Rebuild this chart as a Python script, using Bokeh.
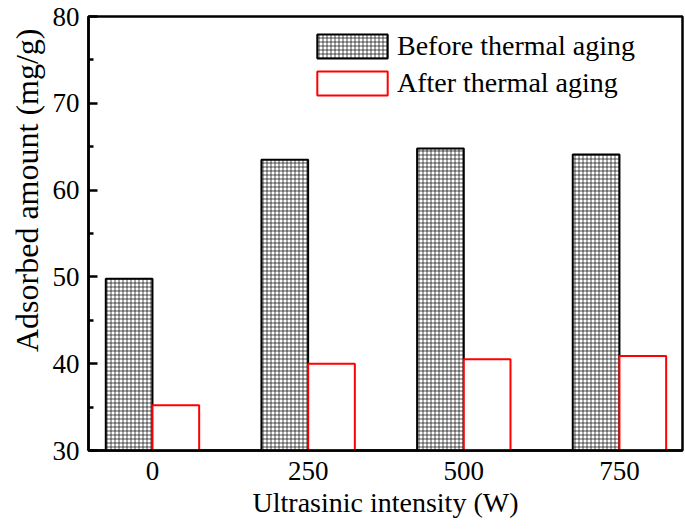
from bokeh.plotting import figure
from bokeh.models import FixedTicker, Range1d, Legend, LegendItem, ColumnDataSource, Title
from bokeh.embed import file_html
from bokeh.resources import INLINE

categories = ["0", "250", "500", "750"]
before = [49.8, 63.5, 64.8, 64.1]
after = [35.2, 40.0, 40.5, 40.9]
series_names = ["Before thermal aging", "After thermal aging"]
x_title = "Ultrasinic intensity (W)"
y_title = "Adsorbed amount (mg/g)"

xs = list(range(len(categories)))
FONT = "Liberation Serif"

p = figure(width=685, height=530, output_backend="svg", toolbar_location=None,
           x_range=Range1d(-0.411, 3.405), y_range=Range1d(30, 80),
           min_border_left=88, min_border_right=3, min_border_top=16, min_border_bottom=80)
p.grid.visible = False
p.background_fill_color = "white"
p.outline_line_color = "black"
p.outline_line_width = 2.5

src_b = ColumnDataSource(dict(x=[x - 0.15 for x in xs], top=before))
src_a = ColumnDataSource(dict(x=[x + 0.15 for x in xs], top=after))

rb = p.vbar(x="x", top="top", bottom=30, width=0.3, source=src_b,
            fill_color="white", line_color="black", line_width=2,
            hatch_pattern="+", hatch_color="black", hatch_scale=4, hatch_weight=0.8, hatch_alpha=0.85)
ra = p.vbar(x="x", top="top", bottom=30, width=0.3, source=src_a,
            fill_color="white", line_color="red", line_width=2)

# axes
p.xaxis.ticker = FixedTicker(ticks=xs)
p.xaxis.major_label_overrides = {i: c for i, c in enumerate(categories)}
p.xaxis.major_tick_line_color = None
p.xaxis.minor_tick_line_color = None
p.xaxis.major_tick_in = 0
p.xaxis.major_tick_out = 0
p.yaxis.ticker = FixedTicker(ticks=[30, 40, 50, 60, 70, 80], minor_ticks=[35, 45, 55, 65, 75])
p.yaxis.major_tick_in = 9
p.yaxis.major_tick_out = 0
p.yaxis.minor_tick_in = 5
p.yaxis.minor_tick_out = 0
p.yaxis.major_tick_line_width = 2.5
p.yaxis.minor_tick_line_width = 2.5
for ax in (p.xaxis, p.yaxis):
    ax.axis_line_width = 2.5
    ax.axis_line_color = "black"
    ax.major_label_text_font = FONT
    ax.major_label_text_font_size = "27px"
    ax.major_label_text_color = "black"
    ax.axis_label_text_font = FONT
    ax.axis_label_text_font_size = "28px"
    ax.axis_label_text_font_style = "normal"
    ax.axis_label_text_color = "black"
p.yaxis.major_label_standoff = 9
p.xaxis.major_label_standoff = 11
p.xaxis.axis_label = x_title
p.xaxis.axis_label_standoff = 4

ytitle = Title(text=y_title, align="right", offset=12, standoff=9,
               text_font=FONT, text_font_size="32px", text_font_style="normal",
               text_color="black")
p.add_layout(ytitle, "left")

legend = Legend(items=[LegendItem(label=series_names[0], renderers=[rb]),
                       LegendItem(label=series_names[1], renderers=[ra])],
                location=(220, 351), glyph_width=88, glyph_height=30, label_height=30,
                spacing=5, padding=0, margin=0, label_standoff=1,
                border_line_color=None, background_fill_alpha=0,
                label_text_font=FONT, label_text_font_size="28px", label_text_color="black")
p.add_layout(legend)

open("out.html", "w").write(file_html(p, INLINE))
